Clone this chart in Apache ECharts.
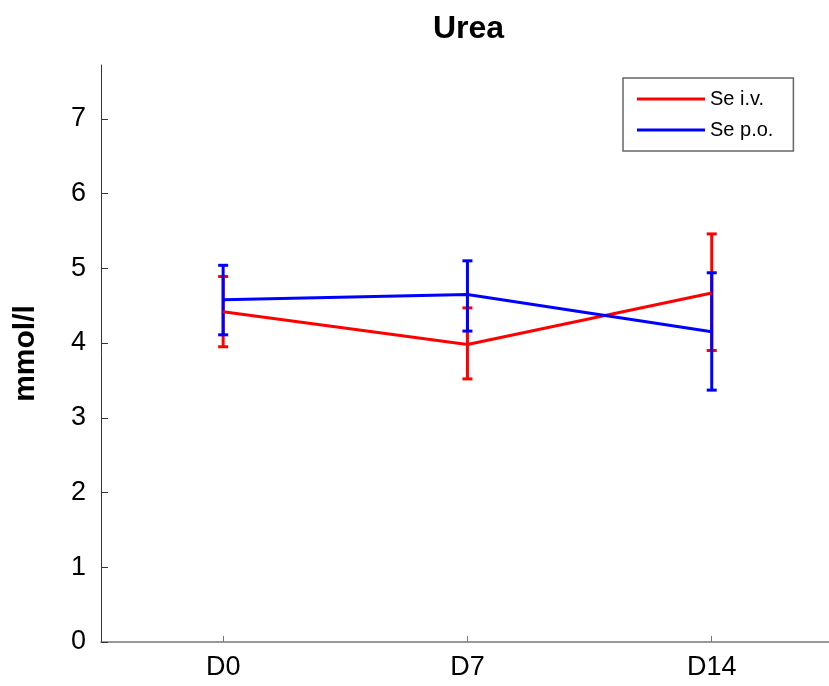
<!DOCTYPE html>
<html>
<head>
<meta charset="utf-8">
<script src="https://cdn.jsdelivr.net/npm/echarts@6/dist/echarts.min.js"></script>
<style>html,body{margin:0;padding:0;background:#fff;}#c{width:829px;height:686px;}</style>
</head>
<body>
<div id="c"></div>
<script>
var categories = ['D0', 'D7', 'D14'];
var yTicks = [0, 1, 2, 3, 4, 5, 6, 7];
var ivMean = [4.42, 3.98, 4.67];
var ivLow = [3.95, 3.52, 3.90];
var ivHigh = [4.89, 4.47, 5.46];
var poMean = [4.58, 4.65, 4.15];
var poLow = [4.11, 4.16, 3.37];
var poHigh = [5.04, 5.10, 4.94];

var RED = '#ff0000', BLUE = '#0000ff';
var FONT = '"Liberation Sans", Arial, sans-serif';
var xIdx = categories.map(function (c, i) { return i; });

function meanData(m) {
  return categories.map(function (c, i) { return [i, m[i]]; });
}
function errData(lo, hi) {
  return categories.map(function (c, i) { return [i, lo[i], hi[i]]; });
}
function errSeries(lo, hi, color) {
  return {
    type: 'custom',
    data: errData(lo, hi),
    encode: { x: 0, y: [1, 2] },
    silent: true,
    renderItem: function (params, api) {
      var x = api.value(0);
      var a = api.coord([x, api.value(1)]);
      var b = api.coord([x, api.value(2)]);
      var w = 5;
      var st = { stroke: color, lineWidth: 3 };
      return {
        type: 'group',
        children: [
          { type: 'line', shape: { x1: a[0], y1: a[1], x2: b[0], y2: b[1] }, style: st },
          { type: 'line', shape: { x1: a[0] - w, y1: a[1], x2: a[0] + w, y2: a[1] }, style: st },
          { type: 'line', shape: { x1: b[0] - w, y1: b[1], x2: b[0] + w, y2: b[1] }, style: st }
        ]
      };
    }
  };
}

var chart = echarts.init(document.getElementById('c'));
chart.setOption({
  backgroundColor: '#fff',
  animation: false,
  title: {
    text: 'Urea', left: 428, top: 8,
    textStyle: { fontFamily: FONT, fontSize: 32, fontWeight: 'bold', color: '#000' }
  },
  legend: {
    data: ['Se i.v.', 'Se p.o.'],
    orient: 'vertical',
    left: 623, top: 78,
    padding: [11, 20, 11, 14],
    itemGap: 11,
    itemWidth: 68, itemHeight: 3,
    itemTextGap: 11,
    icon: 'rect',
    borderColor: '#666', borderWidth: 1.5,
    textStyle: { fontFamily: FONT, fontSize: 20, color: '#000' }
  },
  grid: { left: 101, right: 0, top: 65, bottom: 44 },
  xAxis: {
    type: 'value',
    min: -0.5, max: 2.48,
    axisLine: { show: true, onZero: false, lineStyle: { color: '#777', width: 1.5 } },
    axisTick: { show: true, inside: true, length: 6, customValues: xIdx, lineStyle: { color: '#777' } },
    axisLabel: {
      margin: 12, customValues: xIdx, fontFamily: FONT, fontSize: 27, color: '#000',
      formatter: function (v) { return categories[Math.round(v)] || ''; }
    },
    splitLine: { show: false }
  },
  yAxis: {
    type: 'value',
    min: 0, max: 7.72,
    name: 'mmol/l',
    nameLocation: 'middle',
    nameGap: 60,
    nameTextStyle: { fontFamily: FONT, fontSize: 30, fontWeight: 'bold', color: '#000' },
    axisLine: { show: true, onZero: false, lineStyle: { color: '#333', width: 1 } },
    axisTick: { show: true, inside: true, length: 7, customValues: yTicks, lineStyle: { color: '#333' } },
    axisLabel: { margin: 15, customValues: yTicks, fontFamily: FONT, fontSize: 27, color: '#000' },
    splitLine: { show: false }
  },
  series: [
    { name: 'Se i.v.', type: 'line', data: meanData(ivMean), symbol: 'none', lineStyle: { color: RED, width: 3 }, itemStyle: { color: RED } },
    errSeries(ivLow, ivHigh, RED),
    { name: 'Se p.o.', type: 'line', data: meanData(poMean), symbol: 'none', lineStyle: { color: BLUE, width: 3 }, itemStyle: { color: BLUE } },
    errSeries(poLow, poHigh, BLUE)
  ]
});
</script>
</body>
</html>
